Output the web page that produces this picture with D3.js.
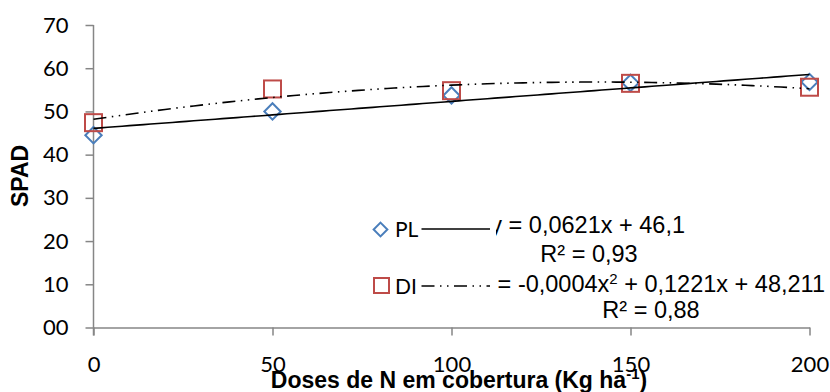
<!DOCTYPE html>
<html>
<head>
<meta charset="utf-8">
<script src="https://cdnjs.cloudflare.com/ajax/libs/d3/7.8.5/d3.min.js"></script>
<style>
  body { margin: 0; background: #fff; }
</style>
</head>
<body>
<div id="chart"></div>
<script>
// data
var doses = [0, 50, 100, 150, 200];
var plValues = [44.5, 50.0, 53.7, 56.6, 56.8];
var dlValues = [47.4, 55.2, 54.8, 56.5, 55.6];
var xTicks = [0, 50, 100, 150, 200];
var yTicks = [0, 10, 20, 30, 40, 50, 60, 70];
var seriesNames = ["PL", "DI"];
var eqPL = ["y = 0,0621x + 46,1", "R² = 0,93"];
var eqDL = ["y = -0,0004x", "2", " + 0,1221x + 48,211", "R² = 0,88"];

var width = 830, height = 392;
var svg = d3.select("#chart").append("svg")
  .attr("width", width).attr("height", height);

var x = d3.scaleLinear().domain([0, 200]).range([93.5, 809.5]);
var y = d3.scaleLinear().domain([0, 70]).range([327.5, 25]);

var axisColor = "#868686";
var tickFont = "Lato, 'Open Sans', sans-serif";
var eqFont = "'Liberation Sans', Arial, sans-serif";

// least squares polynomial fit (trendline as the spreadsheet does it)
function polyfit(xs, ys, deg) {
  var n = deg + 1, A = [], b = [];
  for (var i = 0; i < n; i++) {
    A.push([]);
    for (var j = 0; j < n; j++) A[i].push(d3.sum(xs, function (v) { return Math.pow(v, i + j); }));
    b.push(d3.sum(xs, function (v, k) { return ys[k] * Math.pow(v, i); }));
  }
  // gaussian elimination
  for (var c = 0; c < n; c++) {
    for (var r = c + 1; r < n; r++) {
      var f = A[r][c] / A[c][c];
      for (var k = c; k < n; k++) A[r][k] -= f * A[c][k];
      b[r] -= f * b[c];
    }
  }
  var coef = new Array(n);
  for (var r2 = n - 1; r2 >= 0; r2--) {
    var s = b[r2];
    for (var k2 = r2 + 1; k2 < n; k2++) s -= A[r2][k2] * coef[k2];
    coef[r2] = s / A[r2][r2];
  }
  return function (v) { return d3.sum(coef, function (cf, p) { return cf * Math.pow(v, p); }); };
}

var fitPL = polyfit(doses, plValues, 1);
var fitDL = polyfit(doses, dlValues, 2);

// axes
var xAxis = svg.append("g").attr("transform", "translate(0," + y(0) + ")")
  .call(d3.axisBottom(x).tickValues(xTicks).tickSize(8).tickSizeOuter(0).tickPadding(21));
var yAxis = svg.append("g").attr("transform", "translate(" + x(0) + ",0)")
  .call(d3.axisLeft(y).tickValues(yTicks).tickSize(8).tickSizeOuter(0).tickPadding(17).tickFormat(d3.format("02d")));

[xAxis, yAxis].forEach(function (g) {
  g.select(".domain").attr("stroke", axisColor).attr("stroke-width", 1.5);
  g.selectAll(".tick line").attr("stroke", axisColor).attr("stroke-width", 1.5);
  g.selectAll(".tick text").attr("fill", "#000")
    .style("font-family", tickFont).style("font-size", "22px");
});
// y axis line continues down to the bottom tick
yAxis.select(".domain").attr("d", "M0," + y(70) + "V" + (y(0) + 8));

// markers: diamonds (PL), then squares (DI)
svg.selectAll(".pl").data(doses).enter().append("path")
  .attr("class", "pl")
  .attr("d", d3.symbol().type(d3.symbolDiamond2).size(170))
  .attr("transform", function (d, i) { return "translate(" + x(d) + "," + y(plValues[i]) + ")"; })
  .attr("fill", "none").attr("stroke", "#4A7EBB").attr("stroke-width", 2);

svg.selectAll(".dl").data(doses).enter().append("rect")
  .attr("class", "dl")
  .attr("x", function (d) { return x(d) - 8.5; })
  .attr("y", function (d, i) { return y(dlValues[i]) - 8.5; })
  .attr("width", 17).attr("height", 17)
  .attr("fill", "none").attr("stroke", "#BE4B48").attr("stroke-width", 2);

// trendlines
var xs = d3.range(0, 200.01, 2);
var line = function (fn) {
  return d3.line().x(function (d) { return x(d); }).y(function (d) { return y(fn(d)); })(xs);
};
svg.append("path").attr("d", line(fitPL))
  .attr("fill", "none").attr("stroke", "#000").attr("stroke-width", 1.6);
svg.append("path").attr("d", line(fitDL))
  .attr("fill", "none").attr("stroke", "#000").attr("stroke-width", 1.6)
  .attr("stroke-dasharray", "13,5.5,1.5,5.5,1.5,5.5");

// trendline equations
var eq1 = svg.append("g").style("font-family", eqFont).style("font-size", "23.5px").attr("fill", "#000");
eq1.append("text").attr("x", 685).attr("y", 233).attr("text-anchor", "end").text(eqPL[0]);
eq1.append("text").attr("x", 589).attr("y", 261.5).attr("text-anchor", "middle").text(eqPL[1]);

var eq2 = svg.append("g").style("font-family", eqFont).style("font-size", "23.5px").attr("fill", "#000");
var t2 = eq2.append("text").attr("x", 825).attr("y", 291.5).attr("text-anchor", "end");
t2.append("tspan").text(eqDL[0]);
t2.append("tspan").attr("dy", -8).style("font-size", "15px").text(eqDL[1]);
t2.append("tspan").attr("dy", 8).text(eqDL[2]);
eq2.append("text").attr("x", 651).attr("y", 318).attr("text-anchor", "middle").text(eqDL[3]);

// legend box sits on top of the equations
svg.append("rect").attr("x", 368).attr("y", 212).attr("width", 128).attr("height", 86).attr("fill", "#fff");

var legend = svg.append("g");
legend.append("path")
  .attr("d", d3.symbol().type(d3.symbolDiamond2).size(120))
  .attr("transform", "translate(380.5,229.5)")
  .attr("fill", "none").attr("stroke", "#4A7EBB").attr("stroke-width", 2);
legend.append("rect").attr("x", 374).attr("y", 278).attr("width", 15).attr("height", 15)
  .attr("fill", "none").attr("stroke", "#BE4B48").attr("stroke-width", 2);
legend.selectAll(".lt").data(seriesNames).enter().append("text")
  .attr("x", 395).attr("y", function (d, i) { return 237 + i * 56.5; })
  .style("font-family", tickFont).style("font-size", "21px").text(function (d) { return d; });
legend.append("line").attr("x1", 421.5).attr("x2", 490).attr("y1", 229).attr("y2", 229)
  .attr("stroke", "#000").attr("stroke-width", 1.6);
legend.append("line").attr("x1", 421.5).attr("x2", 490).attr("y1", 286).attr("y2", 286)
  .attr("stroke", "#000").attr("stroke-width", 1.6)
  .attr("stroke-dasharray", "13,5.5,1.5,5.5,1.5,5.5");

// axis titles
var xt = svg.append("text").attr("x", 459).attr("y", 387.5).attr("text-anchor", "middle")
  .style("font-family", eqFont).style("font-weight", "bold").style("font-size", "23px");
xt.append("tspan").text("Doses de N em cobertura (Kg ha");
xt.append("tspan").attr("dy", -9).style("font-size", "15px").text("-1");
xt.append("tspan").attr("dy", 9).text(")");

svg.append("text")
  .attr("transform", "translate(28,176) rotate(-90)")
  .attr("text-anchor", "middle")
  .style("font-family", eqFont).style("font-weight", "bold").style("font-size", "23px")
  .text("SPAD");
</script>
</body>
</html>
